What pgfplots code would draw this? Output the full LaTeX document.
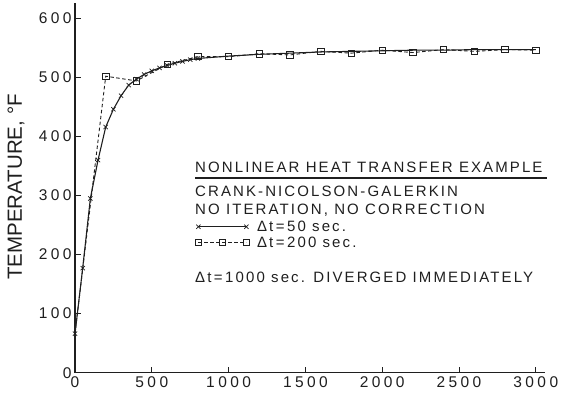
\documentclass[border=0pt]{standalone}
\usepackage{pgfplots}
\pgfplotsset{compat=1.18}
\usepackage{fontspec}
\setmainfont{Liberation Sans}
\newfontfamily\lett[LetterSpace=14]{Liberation Sans}
\newfontfamily\tlett[LetterSpace=22]{Liberation Sans}
\definecolor{ink}{gray}{0.12}
\begin{document}
\begin{tikzpicture}[x=1pt,y=1pt]
\useasboundingbox (0,0) rectangle (562,399);
\begin{axis}[
  at={(75pt,26.3pt)}, anchor=south west,
  scale only axis, width=470pt, height=369.7pt,
  xmin=0, xmax=3060, ymin=0, ymax=625.9,
  axis lines=left,
  axis line style={-, line width=1.3pt, ink},
  xtick={0,500,...,3000}, ytick={0,100,...,600},
  tick align=inside, major tick length=6pt,
  tick style={line width=0.8pt, ink},
  ticklabel style={font={\tlett\fontsize{15.5}{15.5}\selectfont}, text=ink},
  /pgf/number format/assume math mode=true,
  /pgf/number format/set thousands separator={},
  clip=false,
  legend style={at={(0.2553,0.4157)}, anchor=north west, draw=none, fill=none,
    inner sep=0pt, font={\lett\fontsize{15}{15}\selectfont}, text=ink,
    row sep=1pt, column sep=6pt, nodes={inner sep=1.5pt}},
  legend cell align=left,
  legend image code/.code={\draw[mark repeat=2,mark phase=1] plot coordinates {(0pt,0pt)(24pt,0pt)(48pt,0pt)};},
]
% Delta t = 50 s (marked part)
\addplot[ink, line width=1.1pt, mark=x, mark size=3pt, mark options={solid, line width=0.7pt}]
  coordinates {(0,66) (50,177) (100,295) (150,360) (200,416) (250,446) (300,469) (350,487)
  (400,497) (450,505) (500,511) (550,516) (600,520) (650,524) (700,527) (750,530) (800,532)};
\addlegendentry{Δt\,=\,50 sec.}
% Delta t = 50 s (continued, no marks)
\addplot[ink, line width=1.1pt, forget plot]
  coordinates {(800,532) (900,534) (1000,536) (1200,539) (1400,541) (1600,543) (1800,544)
  (2000,545) (2200,546) (2400,546) (2600,547) (2800,547) (3000,547)};
% Delta t = 200 s
\addplot[ink, line width=0.9pt, dash pattern=on 3.5pt off 2.5pt, mark=square, mark size=3.2pt,
  mark options={solid, line width=0.8pt, fill=white}, mark indices={2,...,16}]
  coordinates {(0,66) (200,502) (400,494) (600,522) (800,535) (1000,535) (1200,540) (1400,538)
  (1600,544) (1800,541) (2000,546) (2200,542) (2400,547) (2600,544) (2800,547) (3000,546)};
\addlegendentry{Δt\,=\,200 sec.}
\end{axis}
\node[rotate=90, anchor=center, text=ink, font={\fontsize{20.5}{20.5}\selectfont}] at (16,212) {TEMPERATURE, °F};
\begin{scope}[every node/.style={anchor=base west, inner sep=0pt, text=ink, font={\lett\fontsize{15}{15}\selectfont}}]
\node at (195,226) {NONLINEAR HEAT TRANSFER EXAMPLE};
\draw[ink, line width=1.2pt] (195,221) -- (547,221);
\node at (195,202) {CRANK-NICOLSON-GALERKIN};
\node at (195,184) {NO ITERATION, NO CORRECTION};
\node at (195,116) {Δt\,=\,1000 sec. DIVERGED IMMEDIATELY};
\end{scope}
\end{tikzpicture}
\end{document}
